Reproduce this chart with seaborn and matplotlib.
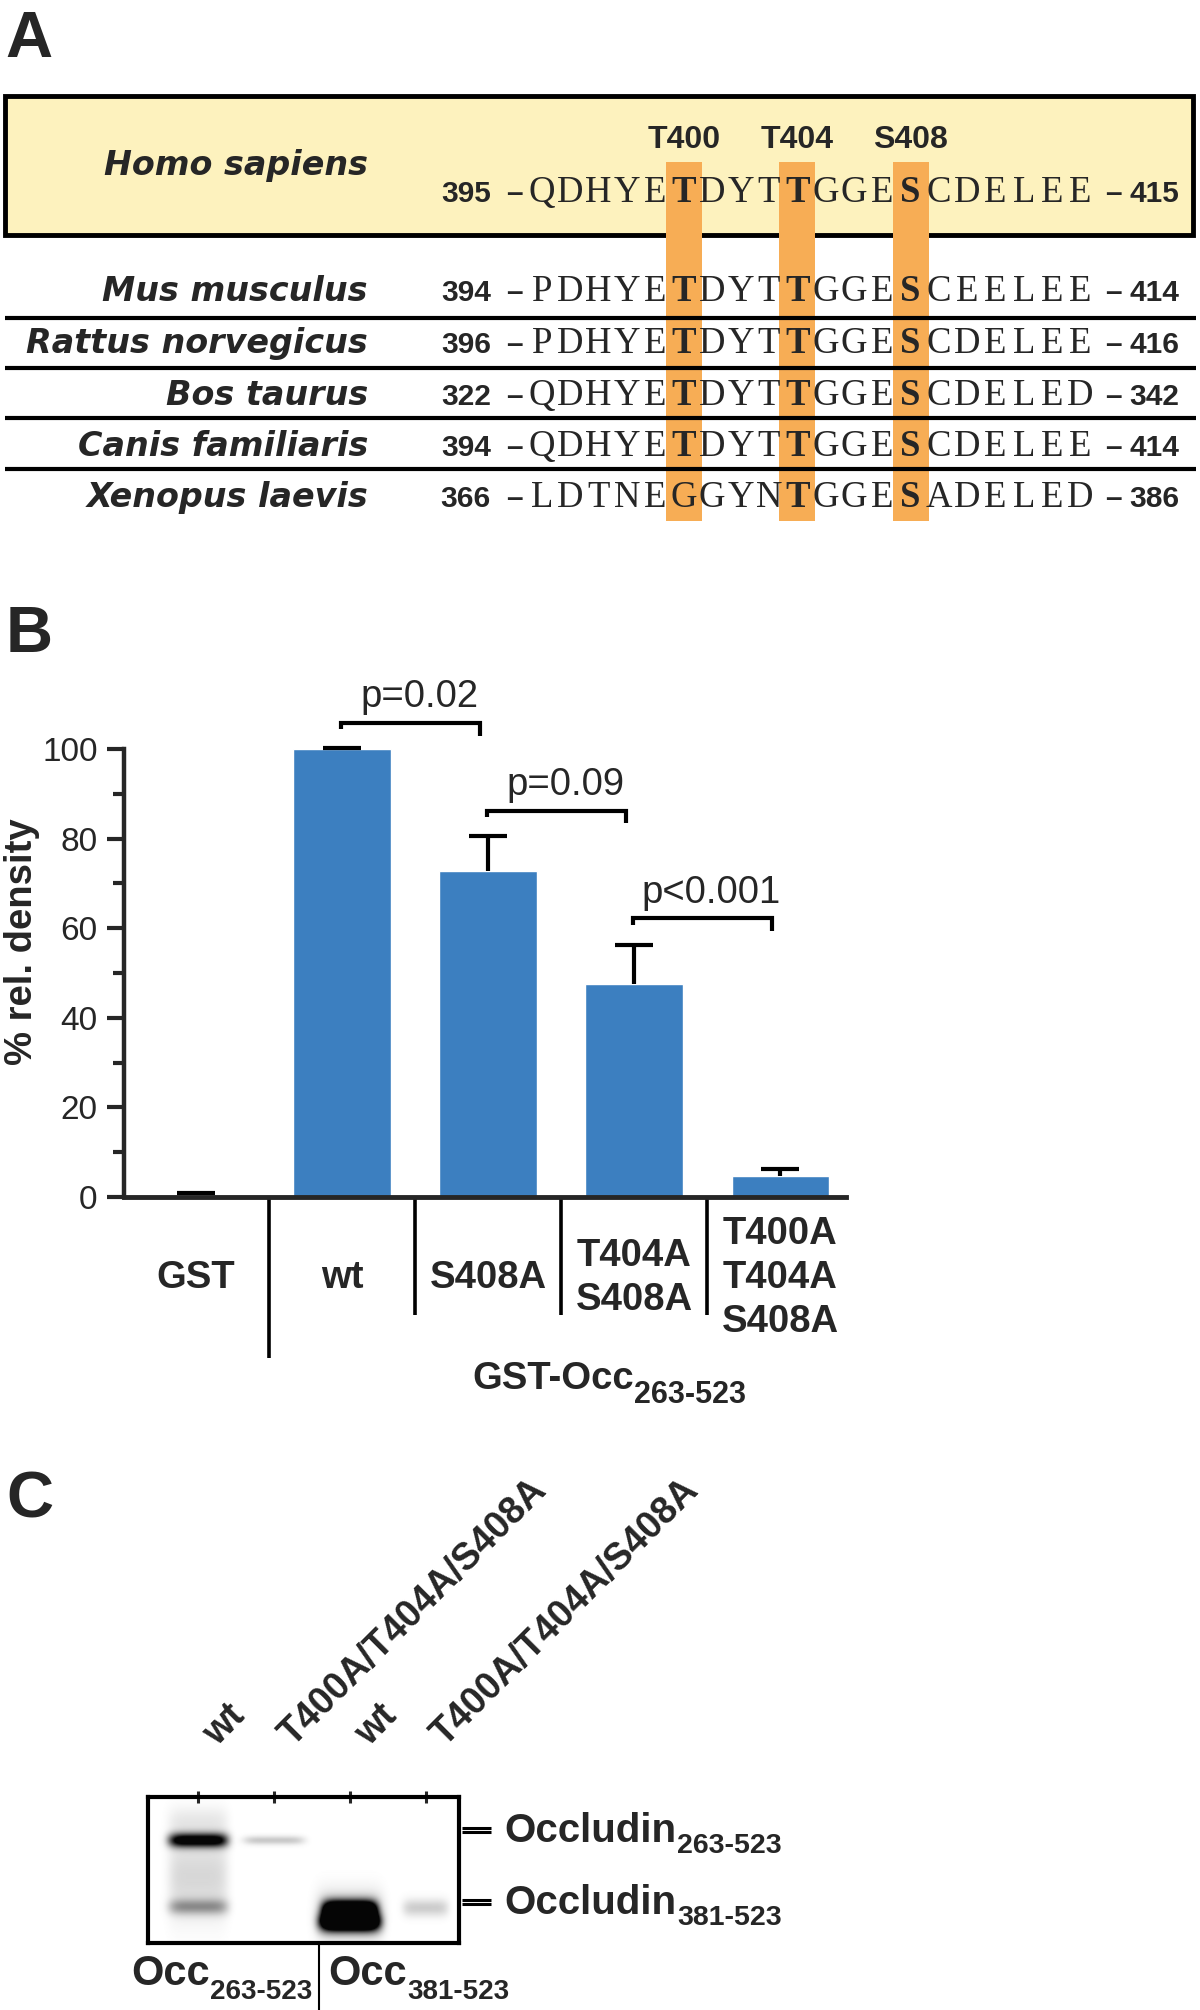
import numpy as np
import pandas as pd
import matplotlib
matplotlib.use('Agg')
import matplotlib.pyplot as plt
from matplotlib.patches import Rectangle
import seaborn as sns

# ---- data: panel A (alignment) ----
species = ['Homo sapiens', 'Mus musculus', 'Rattus norvegicus', 'Bos taurus',
           'Canis familiaris', 'Xenopus laevis']
seq_start = [395, 394, 396, 322, 394, 366]
seq_end = [415, 414, 416, 342, 414, 386]
sequences = ['QDHYETDYTTGGESCDELEE',
             'PDHYETDYTTGGESCEELEE',
             'PDHYETDYTTGGESCDELEE',
             'QDHYETDYTTGGESCDELED',
             'QDHYETDYTTGGESCDELEE',
             'LDTNEGGYNTGGESADELED']
sites = ['T400', 'T404', 'S408']
site_cols = [5, 9, 13]

# ---- data: panel B (bar chart) ----
constructs = ['GST', 'wt', 'S408A', 'T404A\nS408A', 'T400A\nT404A\nS408A']
density = [0.4, 100.0, 72.8, 47.5, 4.7]
density_err = [0.5, 0.3, 7.8, 8.8, 1.5]
comparisons = [(1, 2), (2, 3), (3, 4)]
p_labels = ['p=0.02', 'p=0.09', 'p<0.001']
bracket_y = [105.8, 86.2, 62.2]

# ---- data: panel C (gel) ----
lane_labels = ['wt', 'T400A/T404A/S408A', 'wt', 'T400A/T404A/S408A']
band_lane = [0, 0, 0, 0, 1, 2, 2, 2, 3]
band_pos = [44, 110, 80, 25, 44, 112, 125, 118, 111]     # px below top of gel
band_int = [1.2, 0.38, 0.16, 0.08, 0.22, 1.6, 1.8, 0.3, 0.2]
band_sd = [5.0, 5.5, 28, 10, 3.0, 6.0, 6.5, 15, 6.0]
band_hw = [0.39, 0.39, 0.39, 0.39, 0.40, 0.36, 0.40, 0.44, 0.30]
marker_pos = [33, 105]
marker_sub = ['263-523', '381-523']
group_sub = ['263-523', '381-523']

BLUE = '#3C7FC0'
YELLOW = '#FDF2BE'
ORANGE = '#F7AD55'

W, H = 1200, 2010
sns.set_style('ticks')
plt.rcParams['font.family'] = ['Liberation Sans', 'DejaVu Sans']

fig = plt.figure(figsize=(12, 20.1), dpi=100)
ov = fig.add_axes([0, 0, 1, 1])
ov.set_xlim(0, W)
ov.set_ylim(H, 0)
ov.axis('off')


def with_sub(ax, x, y, main, sub, size, sub_size, drop):
    t = ax.text(x, y, main, fontsize=size, fontweight='bold', ha='left', va='baseline', clip_on=False)
    ax.annotate(sub, xy=(1, 0), xycoords=t, xytext=(0.5, -drop), textcoords='offset points',
                fontsize=sub_size, fontweight='bold', ha='left', va='baseline', annotation_clip=False)


# panel letters
for letter, lx, ly in [('A', 5, 57), ('B', 6, 652), ('C', 6, 1517)]:
    ov.text(lx, ly, letter, fontsize=47, fontweight='bold', va='baseline', ha='left')

# ---------------- panel A ----------------
SEQ_X0, COL_W = 542, 28.35
row_base = [202, 301, 353, 405, 456, 507]
name_base = [175, 301, 353, 405, 456, 507]

ov.add_patch(Rectangle((5, 95.5), 1188, 139, facecolor=YELLOW, edgecolor='black', lw=3.5, zorder=1))
for c in site_cols:
    xc = SEQ_X0 + c * COL_W
    ov.add_patch(Rectangle((xc - 18, 162), 36, 359, facecolor=ORANGE, edgecolor='none', zorder=2))
for ysep in [318, 368, 418, 469]:
    ov.plot([5, 1196], [ysep, ysep], color='black', lw=3, zorder=3, solid_capstyle='butt')

for lab, c in zip(sites, site_cols):
    ov.text(SEQ_X0 + c * COL_W, 148, lab, fontsize=23, fontweight='bold', ha='center', va='baseline', zorder=4)

for r, name in enumerate(species):
    ov.text(368, name_base[r], name, family='DejaVu Sans', fontsize=24, fontweight='bold',
            style='italic', ha='right', va='baseline', zorder=4)
    b = row_base[r]
    ov.text(491, b, str(seq_start[r]), fontsize=21.5, fontweight='bold', ha='right', va='baseline', zorder=4)
    ov.text(514, b, '\u2013', fontsize=21.5, fontweight='bold', ha='center', va='baseline', zorder=4)
    ov.text(1113, b, '\u2013', fontsize=21.5, fontweight='bold', ha='center', va='baseline', zorder=4)
    ov.text(1129, b, str(seq_end[r]), fontsize=21.5, fontweight='bold', ha='left', va='baseline', zorder=4)
    for i, ch in enumerate(sequences[r]):
        bold = (i in site_cols) and ch in 'TS'
        ov.text(SEQ_X0 + i * COL_W, b, ch, family='Liberation Serif', fontsize=26.5,
                fontweight='bold' if bold else 'normal', ha='center', va='baseline', zorder=4)

# ---------------- panel B ----------------
AX_LEFT, AX_RIGHT, AX_Y0, PX_UNIT, YTOP = 124, 846, 1197, 4.48, 112


def by(px):
    return (AX_Y0 - px) / PX_UNIT


axb = fig.add_axes([AX_LEFT / W, (H - AX_Y0) / H, (AX_RIGHT - AX_LEFT) / W, YTOP * PX_UNIT / H])
axb.patch.set_alpha(0)
df = pd.DataFrame({'construct': constructs, 'density': density})
sns.barplot(data=df, x='construct', y='density', color=BLUE, saturation=1, width=0.667,
            errorbar=None, ax=axb)
xpos = np.arange(len(density))
eb = axb.errorbar(xpos, density, yerr=[np.zeros(len(density)), density_err], fmt='none',
                  ecolor='black', elinewidth=3, capsize=13.5, capthick=3, zorder=3)
eb[1][0].set_visible(False)   # only the upper cap
axb.set_xlim(-0.493, 4.45)
axb.set_ylim(0, YTOP)
sns.despine(ax=axb)
axb.spines['left'].set_bounds(0, 100)
axb.spines['left'].set_linewidth(3.2)
axb.spines['bottom'].set_linewidth(3.5)
axb.set_yticks(range(0, 101, 20))
axb.set_yticks(range(10, 100, 20), minor=True)
axb.tick_params(axis='y', which='major', length=12, width=3, labelsize=24, pad=7)
axb.tick_params(axis='y', which='minor', length=8, width=3)
axb.tick_params(axis='x', length=0, labelbottom=False)
axb.set_xlabel('')
axb.set_ylabel('')

for k in range(1, len(constructs)):
    yend = by(1358) if k == 1 else by(1315)
    axb.plot([k - 0.5, k - 0.5], [0, yend], color='black', lw=2.6, clip_on=False, solid_capstyle='butt')

for i, lab in enumerate(constructs):
    lines = lab.split('\n')
    n = len(lines)
    for j, line in enumerate(lines):
        base = 1288 + (j - (n - 1) / 2) * 44
        axb.text(i, by(base), line, fontsize=27.5, fontweight='bold', ha='center', va='baseline')

for (a, b), lab, yb in zip(comparisons, p_labels, bracket_y):
    x1, x2 = a - 0.01, b - 0.055
    axb.plot([x1, x1, x2, x2], [yb - 1.4, yb, yb, yb - 2.8], color='black', lw=3,
             clip_on=False, solid_capstyle='butt', solid_joinstyle='miter')
    axb.text((x1 + x2) / 2 + 0.06, yb + 3.5, lab, fontsize=27.5, ha='center', va='baseline')

with_sub(axb, 1.89, by(1389), 'GST-Occ', '263-523', 27.5, 22, 4.5)
ov.text(22, 942, '% rel. density', rotation=90, fontsize=27.5, fontweight='bold', ha='center', va='center')

# ---------------- panel C ----------------
G_L, G_R, G_T, G_B = 148, 459, 1797, 1943
LANE_PX, LANE0_PX = 76, 198
x_min = (G_L - LANE0_PX) / LANE_PX
x_max = (G_R - LANE0_PX) / LANE_PX
gel_h = G_B - G_T

axg = fig.add_axes([G_L / W, (H - G_B) / H, (G_R - G_L) / W, gel_h / H])
xs = np.linspace(x_min, x_max, G_R - G_L)
ys = np.arange(gel_h) + 0.5
X, Y = np.meshgrid(xs, ys)
img = np.zeros_like(X)
for lane, pos, inten, sd, hw in zip(band_lane, band_pos, band_int, band_sd, band_hw):
    img += inten * np.exp(-((X - lane) / hw) ** 6) * np.exp(-0.5 * ((Y - pos) / sd) ** 2)
img = np.clip(img, 0, 1)
axg.imshow(img, cmap='gray_r', vmin=0, vmax=1.02, extent=[x_min, x_max, gel_h, 0],
           aspect='auto', interpolation='bilinear')
axg.set_xlim(x_min, x_max)
axg.set_ylim(gel_h, 0)
for s in axg.spines.values():
    s.set_linewidth(3)
    s.set_color('black')
axg.set_xticks(range(len(lane_labels)))
axg.set_yticks([])
axg.tick_params(axis='x', top=True, bottom=False, labeltop=False, labelbottom=False,
                direction='inout', length=8, width=2.2)

for i, lab in enumerate(lane_labels):
    axg.text(i + 19 / LANE_PX, -(G_T - 1747), lab, rotation=45, rotation_mode='anchor',
             ha='left', va='baseline', fontsize=27, fontweight='bold', clip_on=False)

for yb, sub in zip(marker_pos, marker_sub):
    for dy in (-2.3, 2.3):
        axg.plot([3.47, 3.86], [yb + dy, yb + dy], color='black', lw=2.2, clip_on=False,
                 solid_capstyle='butt')
    with_sub(axg, 4.03, yb + 12, 'Occludin', sub, 29, 20.5, 2.0)

for xl, sub in zip([(131 - LANE0_PX) / LANE_PX, (328 - LANE0_PX) / LANE_PX], group_sub):
    with_sub(axg, xl, 1985 - G_T, 'Occ', sub, 30, 20, 3.9)
xd = (319 - LANE0_PX) / LANE_PX
axg.plot([xd, xd], [gel_h, H - G_T], color='black', lw=1.5, clip_on=False)

fig.savefig('out.png', dpi=100, facecolor='white')
